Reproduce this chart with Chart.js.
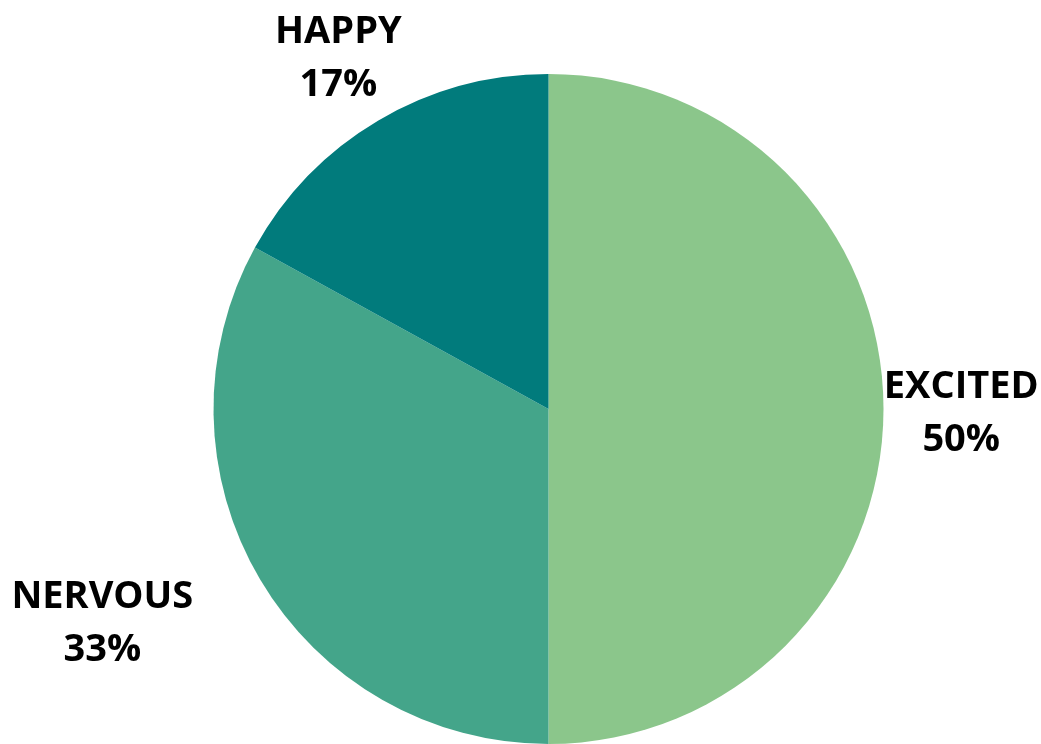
<!DOCTYPE html>
<html>
<head>
<meta charset="utf-8">
<script src="https://cdn.jsdelivr.net/npm/chart.js@4"></script>
<style>
  body { margin: 0; background: #fff; }
</style>
</head>
<body>
<canvas id="moodPie" width="1041" height="744"></canvas>
<script>
const labels = ['EXCITED', 'NERVOUS', 'HAPPY'];
const shares = [50, 33, 17];
const sliceColors = ['#8BC68B', '#44A58A', '#017B7C'];

// label placement: distance as fraction of radius, and text alignment
const labelDist = 1.232;
const labelAlign = ['center', 'right', 'center'];

const outsideLabels = {
  id: 'outsideLabels',
  afterDatasetsDraw(chart) {
    const ctx = chart.ctx;
    const meta = chart.getDatasetMeta(0);
    ctx.save();
    ctx.font = 'bold 38px "Open Sans"';
    ctx.fillStyle = '#000';
    ctx.textBaseline = 'middle';
    meta.data.forEach((arc, i) => {
      const p = arc.getProps(['x', 'y', 'startAngle', 'endAngle', 'outerRadius'], true);
      const mid = (p.startAngle + p.endAngle) / 2;
      const d = p.outerRadius * labelDist;
      const x = p.x + Math.cos(mid) * d;
      const y = p.y + Math.sin(mid) * d;
      ctx.textAlign = labelAlign[i];
      ctx.fillText(labels[i], x, y - 22);
      // second line centred under the first
      let x2 = x;
      if (labelAlign[i] === 'right') x2 = x - ctx.measureText(labels[i]).width / 2;
      ctx.textAlign = 'center';
      ctx.fillText(shares[i] + '%', x2, y + 31);
    });
    ctx.restore();
  }
};

const config = {
  type: 'pie',
  data: {
    labels: labels,
    datasets: [{
      data: shares,
      backgroundColor: sliceColors,
      borderWidth: 0
    }]
  },
  options: {
    responsive: false,
    animation: false,
    layout: {
      padding: { top: 74, bottom: -6, left: 211, right: 155 }
    },
    plugins: {
      legend: { display: false },
      tooltip: { enabled: false }
    }
  },
  plugins: [outsideLabels]
};

const moodPie = new Chart(document.getElementById('moodPie'), config);
</script>
</body>
</html>
